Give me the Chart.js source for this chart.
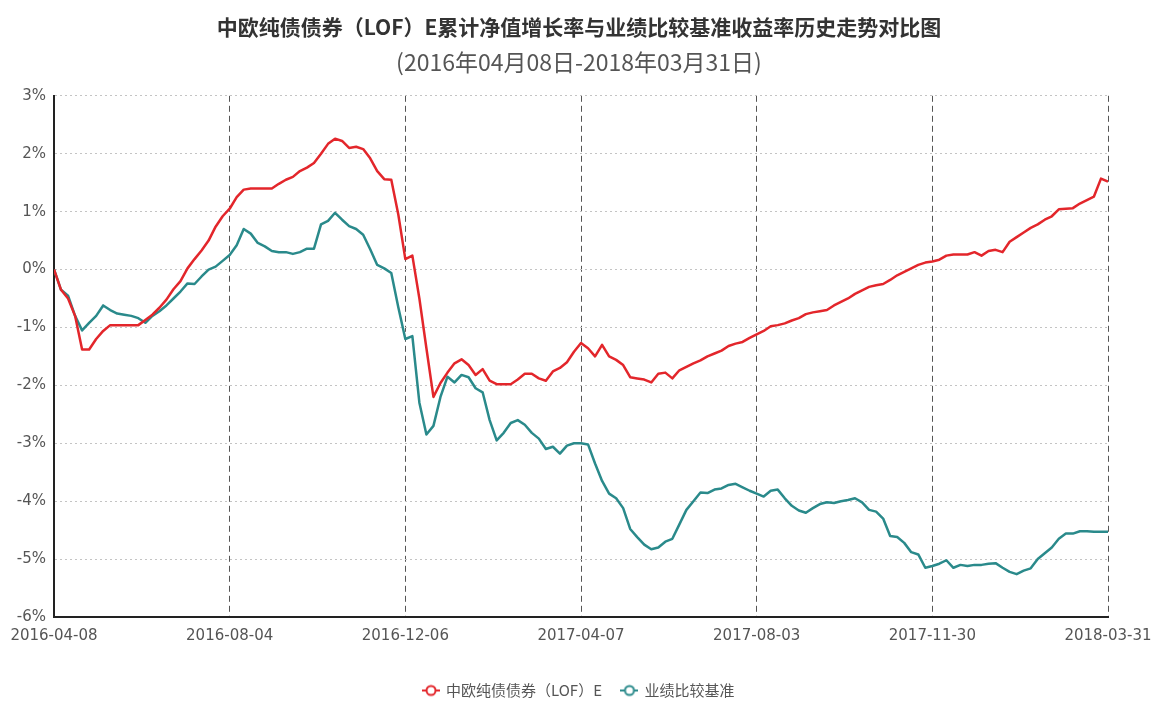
<!DOCTYPE html>
<html>
<head>
<meta charset="utf-8">
<script src="https://cdn.jsdelivr.net/npm/chart.js@4.4.1/dist/chart.umd.min.js"></script>
<style>
  html, body { margin: 0; padding: 0; background: #fff; }
  #chart { display: block; }
</style>
</head>
<body>
<canvas id="chart" width="1158" height="701"></canvas>
<script>
// 中欧纯债债券（LOF）E 与业绩比较基准 —— 累计收益率走势（单位：%）

const TITLE = "中欧纯债债券（LOF）E累计净值增长率与业绩比较基准收益率历史走势对比图";
const SUBTITLE = "(2016年04月08日-2018年03月31日)";

const xTickLabels = ["2016-04-08", "2016-08-04", "2016-12-06", "2017-04-07", "2017-08-03", "2017-11-30", "2018-03-31"];
const yTickLabels = ["-6%", "-5%", "-4%", "-3%", "-2%", "-1%", "0%", "1%", "2%", "3%"];

const fundName = "中欧纯债债券（LOF）E";
const benchName = "业绩比较基准";

// 点位，两条刻度线之间各 25 段
const fundValues = [
  0, -0.35, -0.5, -0.8, -1.38, -1.38, -1.2, -1.06, -0.96, -0.96,
  -0.96, -0.96, -0.96, -0.87, -0.78, -0.66, -0.52, -0.34, -0.2, 0.02,
  0.18, 0.33, 0.5, 0.74, 0.92, 1.05, 1.25, 1.38, 1.4, 1.4,
  1.4, 1.4, 1.48, 1.55, 1.6, 1.7, 1.76, 1.84, 2.0, 2.17,
  2.26, 2.22, 2.1, 2.12, 2.08, 1.92, 1.7, 1.56, 1.55, 0.95,
  0.18, 0.24, -0.5, -1.36, -2.2, -1.96, -1.78, -1.62, -1.55, -1.65,
  -1.82, -1.72, -1.92, -1.98, -1.98, -1.98, -1.9, -1.8, -1.8, -1.88,
  -1.92, -1.76, -1.7, -1.6, -1.42, -1.27, -1.36, -1.5, -1.3, -1.5,
  -1.56, -1.65, -1.86, -1.88, -1.9, -1.95, -1.8, -1.78, -1.88, -1.74,
  -1.68, -1.62, -1.57, -1.5, -1.45, -1.4, -1.32, -1.28, -1.25, -1.18,
  -1.12, -1.06, -0.98, -0.96, -0.93, -0.88, -0.84, -0.77, -0.74, -0.72,
  -0.7, -0.62, -0.56, -0.5, -0.42, -0.36, -0.3, -0.27, -0.25, -0.18,
  -0.1, -0.04, 0.02, 0.08, 0.12, 0.14, 0.17, 0.24, 0.26, 0.26,
  0.26, 0.3, 0.24, 0.32, 0.34, 0.3, 0.48, 0.56, 0.64, 0.72,
  0.78, 0.86, 0.92, 1.04, 1.05, 1.06, 1.14, 1.2, 1.26, 1.57,
  1.52,
];

const benchValues = [
  0, -0.35, -0.45, -0.8, -1.05, -0.92, -0.8, -0.62, -0.7, -0.76,
  -0.78, -0.8, -0.84, -0.92, -0.8, -0.72, -0.62, -0.5, -0.38, -0.24,
  -0.25, -0.12, 0, 0.05, 0.15, 0.25, 0.42, 0.7, 0.62, 0.46,
  0.4, 0.32, 0.3, 0.3, 0.27, 0.3, 0.36, 0.36, 0.78, 0.84,
  0.98, 0.86, 0.75, 0.7, 0.6, 0.35, 0.08, 0.02, -0.06, -0.65,
  -1.2, -1.15, -2.3, -2.85, -2.7, -2.2, -1.85, -1.95, -1.82, -1.86,
  -2.05, -2.12, -2.6, -2.95, -2.82, -2.65, -2.6, -2.68, -2.82, -2.92,
  -3.1, -3.06, -3.18, -3.04, -3.0, -3.0, -3.02, -3.35, -3.65, -3.87,
  -3.95, -4.12, -4.48, -4.62, -4.75, -4.83, -4.8, -4.7, -4.65, -4.4,
  -4.15, -4.0, -3.85, -3.86, -3.8, -3.78, -3.72, -3.7, -3.76, -3.82,
  -3.87, -3.92, -3.82, -3.8, -3.95, -4.08, -4.16, -4.2, -4.12, -4.05,
  -4.02, -4.03, -4.0, -3.98, -3.95, -4.02, -4.15, -4.18, -4.3, -4.6,
  -4.62, -4.72, -4.88, -4.92, -5.15, -5.12, -5.08, -5.02, -5.15, -5.1,
  -5.12, -5.1, -5.1, -5.08, -5.07, -5.15, -5.22, -5.26, -5.2, -5.16,
  -5.0, -4.9, -4.8, -4.65, -4.56, -4.56, -4.52, -4.52, -4.53, -4.53,
  -4.53,
];

const RED = "#e3262b";
const TEAL = "#2a8a8b";
const FONT = "'DejaVu Sans', 'Noto Sans CJK SC', sans-serif";
const CJK_FONT = "'Noto Sans CJK SC', sans-serif";

const lastIndex = fundValues.length - 1;
const step = lastIndex / (xTickLabels.length - 1);

// 图例图标：短线 + 空心圆
function legendIcon(color) {
  const c = document.createElement("canvas");
  c.width = 18;
  c.height = 14;
  const g = c.getContext("2d");
  g.strokeStyle = color;
  g.lineWidth = 2;
  g.beginPath();
  g.moveTo(0, 7);
  g.lineTo(18, 7);
  g.stroke();
  g.beginPath();
  g.arc(9, 7, 4.5, 0, Math.PI * 2);
  g.fillStyle = "#fff";
  g.fill();
  g.stroke();
  return c;
}
const icons = [legendIcon(RED), legendIcon(TEAL)];

const toPoints = (arr) => arr.map((v, i) => ({ x: i, y: v }));

new Chart(document.getElementById("chart"), {
  type: "line",
  data: {
    datasets: [
      { label: fundName, data: toPoints(fundValues), borderColor: RED, backgroundColor: RED },
      { label: benchName, data: toPoints(benchValues), borderColor: TEAL, backgroundColor: TEAL },
    ],
  },
  options: {
    responsive: false,
    animation: false,
    layout: { padding: { left: 0, right: 0, bottom: -7 } },
    elements: {
      line: { borderWidth: 2.5, tension: 0, borderJoinStyle: "round" },
      point: { radius: 0, hoverRadius: 0 },
    },
    plugins: {
      title: {
        display: true,
        text: TITLE,
        color: "#333",
        font: { family: CJK_FONT, size: 21, weight: "bold" },
        padding: { top: 14, bottom: 2 },
      },
      subtitle: {
        display: true,
        text: SUBTITLE,
        color: "#555",
        font: { family: CJK_FONT, size: 23 },
        padding: { top: 7, bottom: 20 },
      },
      legend: {
        position: "bottom",
        labels: {
          usePointStyle: true,
          color: "#555",
          font: { family: CJK_FONT, size: 15 },
          padding: 20,
          generateLabels(chart) {
            const items = Chart.defaults.plugins.legend.labels.generateLabels(chart);
            items.forEach((it, i) => { it.pointStyle = icons[i]; });
            return items;
          },
        },
      },
      tooltip: { enabled: false },
    },
    scales: {
      x: {
        type: "linear",
        min: 0,
        max: lastIndex,
        afterFit(scale) {
          scale.height = 46;
          scale.paddingRight = 50; // 右侧留白与原图一致
        },
        afterBuildTicks(scale) {
          scale.ticks = xTickLabels.map((_, k) => ({ value: k * step }));
        },
        ticks: {
          autoSkip: false,
          maxRotation: 0,
          padding: 10,
          color: "#555",
          font: { family: FONT, size: 15 },
          callback: (v) => xTickLabels[Math.round(v / step)],
        },
        grid: { color: "#555", lineWidth: 1, drawTicks: false },
        border: { color: "#222", width: 2, dash: [6, 4] },
      },
      y: {
        min: -6,
        max: 3,
        afterFit(scale) { scale.width = 54; },
        afterBuildTicks(scale) {
          scale.ticks = yTickLabels.map((_, k) => ({ value: k - 6 }));
        },
        ticks: {
          padding: 8,
          color: "#555",
          font: { family: FONT, size: 15 },
          callback: (v) => yTickLabels[v + 6],
        },
        grid: { color: "#c4c4c4", lineWidth: 1, drawTicks: false },
        border: { color: "#222", width: 2, dash: [2, 3] },
      },
    },
  },
});
</script>
</body>
</html>
